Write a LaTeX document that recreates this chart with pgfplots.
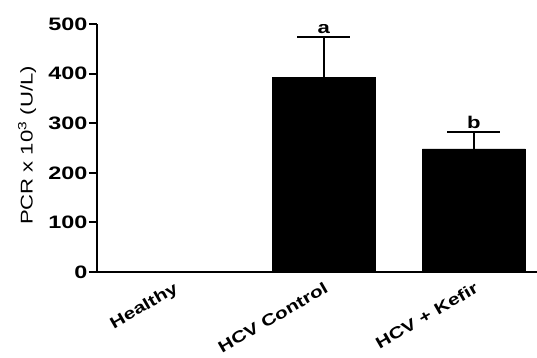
\documentclass[border=0pt]{standalone}
\usepackage{fontspec}
\setmainfont{Liberation Sans}[FakeStretch=1.3]
\usepackage{pgfplots}
\pgfplotsset{compat=1.18}
\begin{document}
\begin{tikzpicture}[x=1pt,y=1pt]
\useasboundingbox (-97,-85) rectangle (440,272);
\begin{axis}[
  at={(0,0)}, anchor=south west,
  scale only axis, width=440pt, height=248pt,
  xmin=-0.51, xmax=2.42, ymin=0, ymax=500,
  axis x line*=bottom, axis y line*=left,
  axis line style={line width=2pt},
  ytick={0,100,200,300,400,500},
  xtick={0,1,2},
  xticklabels={Healthy,HCV Control,HCV + Kefir},
  tick align=outside,
  major tick length=8pt,
  y tick style={line width=2pt, black},
  x tick style={draw=none},
  yticklabel style={font=\fontsize{18}{21}\selectfont\bfseries, inner sep=1.5pt},
  xticklabel style={font=\fontsize{16}{19}\selectfont\bfseries, rotate=30, anchor=north east, inner sep=1pt},
  /pgf/number format/assume math mode=true,
  ylabel={PCR x 10\textsuperscript{3} (U/L)},
  ylabel style={font=\fontsize{17}{20}\selectfont, at={(axis description cs:-0.159,0.51)}, anchor=center},
  ybar, bar width=103pt,
]
\addplot[fill=black, draw=black,
  error bars/.cd, y dir=plus, y explicit,
  error bar style={line width=2pt, black},
  error mark options={line width=2pt, mark size=26.5pt, rotate=90}]
  coordinates {(0,0) +- (0,0) (1,393) +- (0,81) (2,248) +- (0,34)};
\node[font=\fontsize{17}{20}\selectfont\bfseries, anchor=south, inner sep=3pt] at (axis cs:1,474) {a};
\node[font=\fontsize{17}{20}\selectfont\bfseries, anchor=south, inner sep=3pt] at (axis cs:2,282) {b};
\end{axis}
\end{tikzpicture}
\end{document}
